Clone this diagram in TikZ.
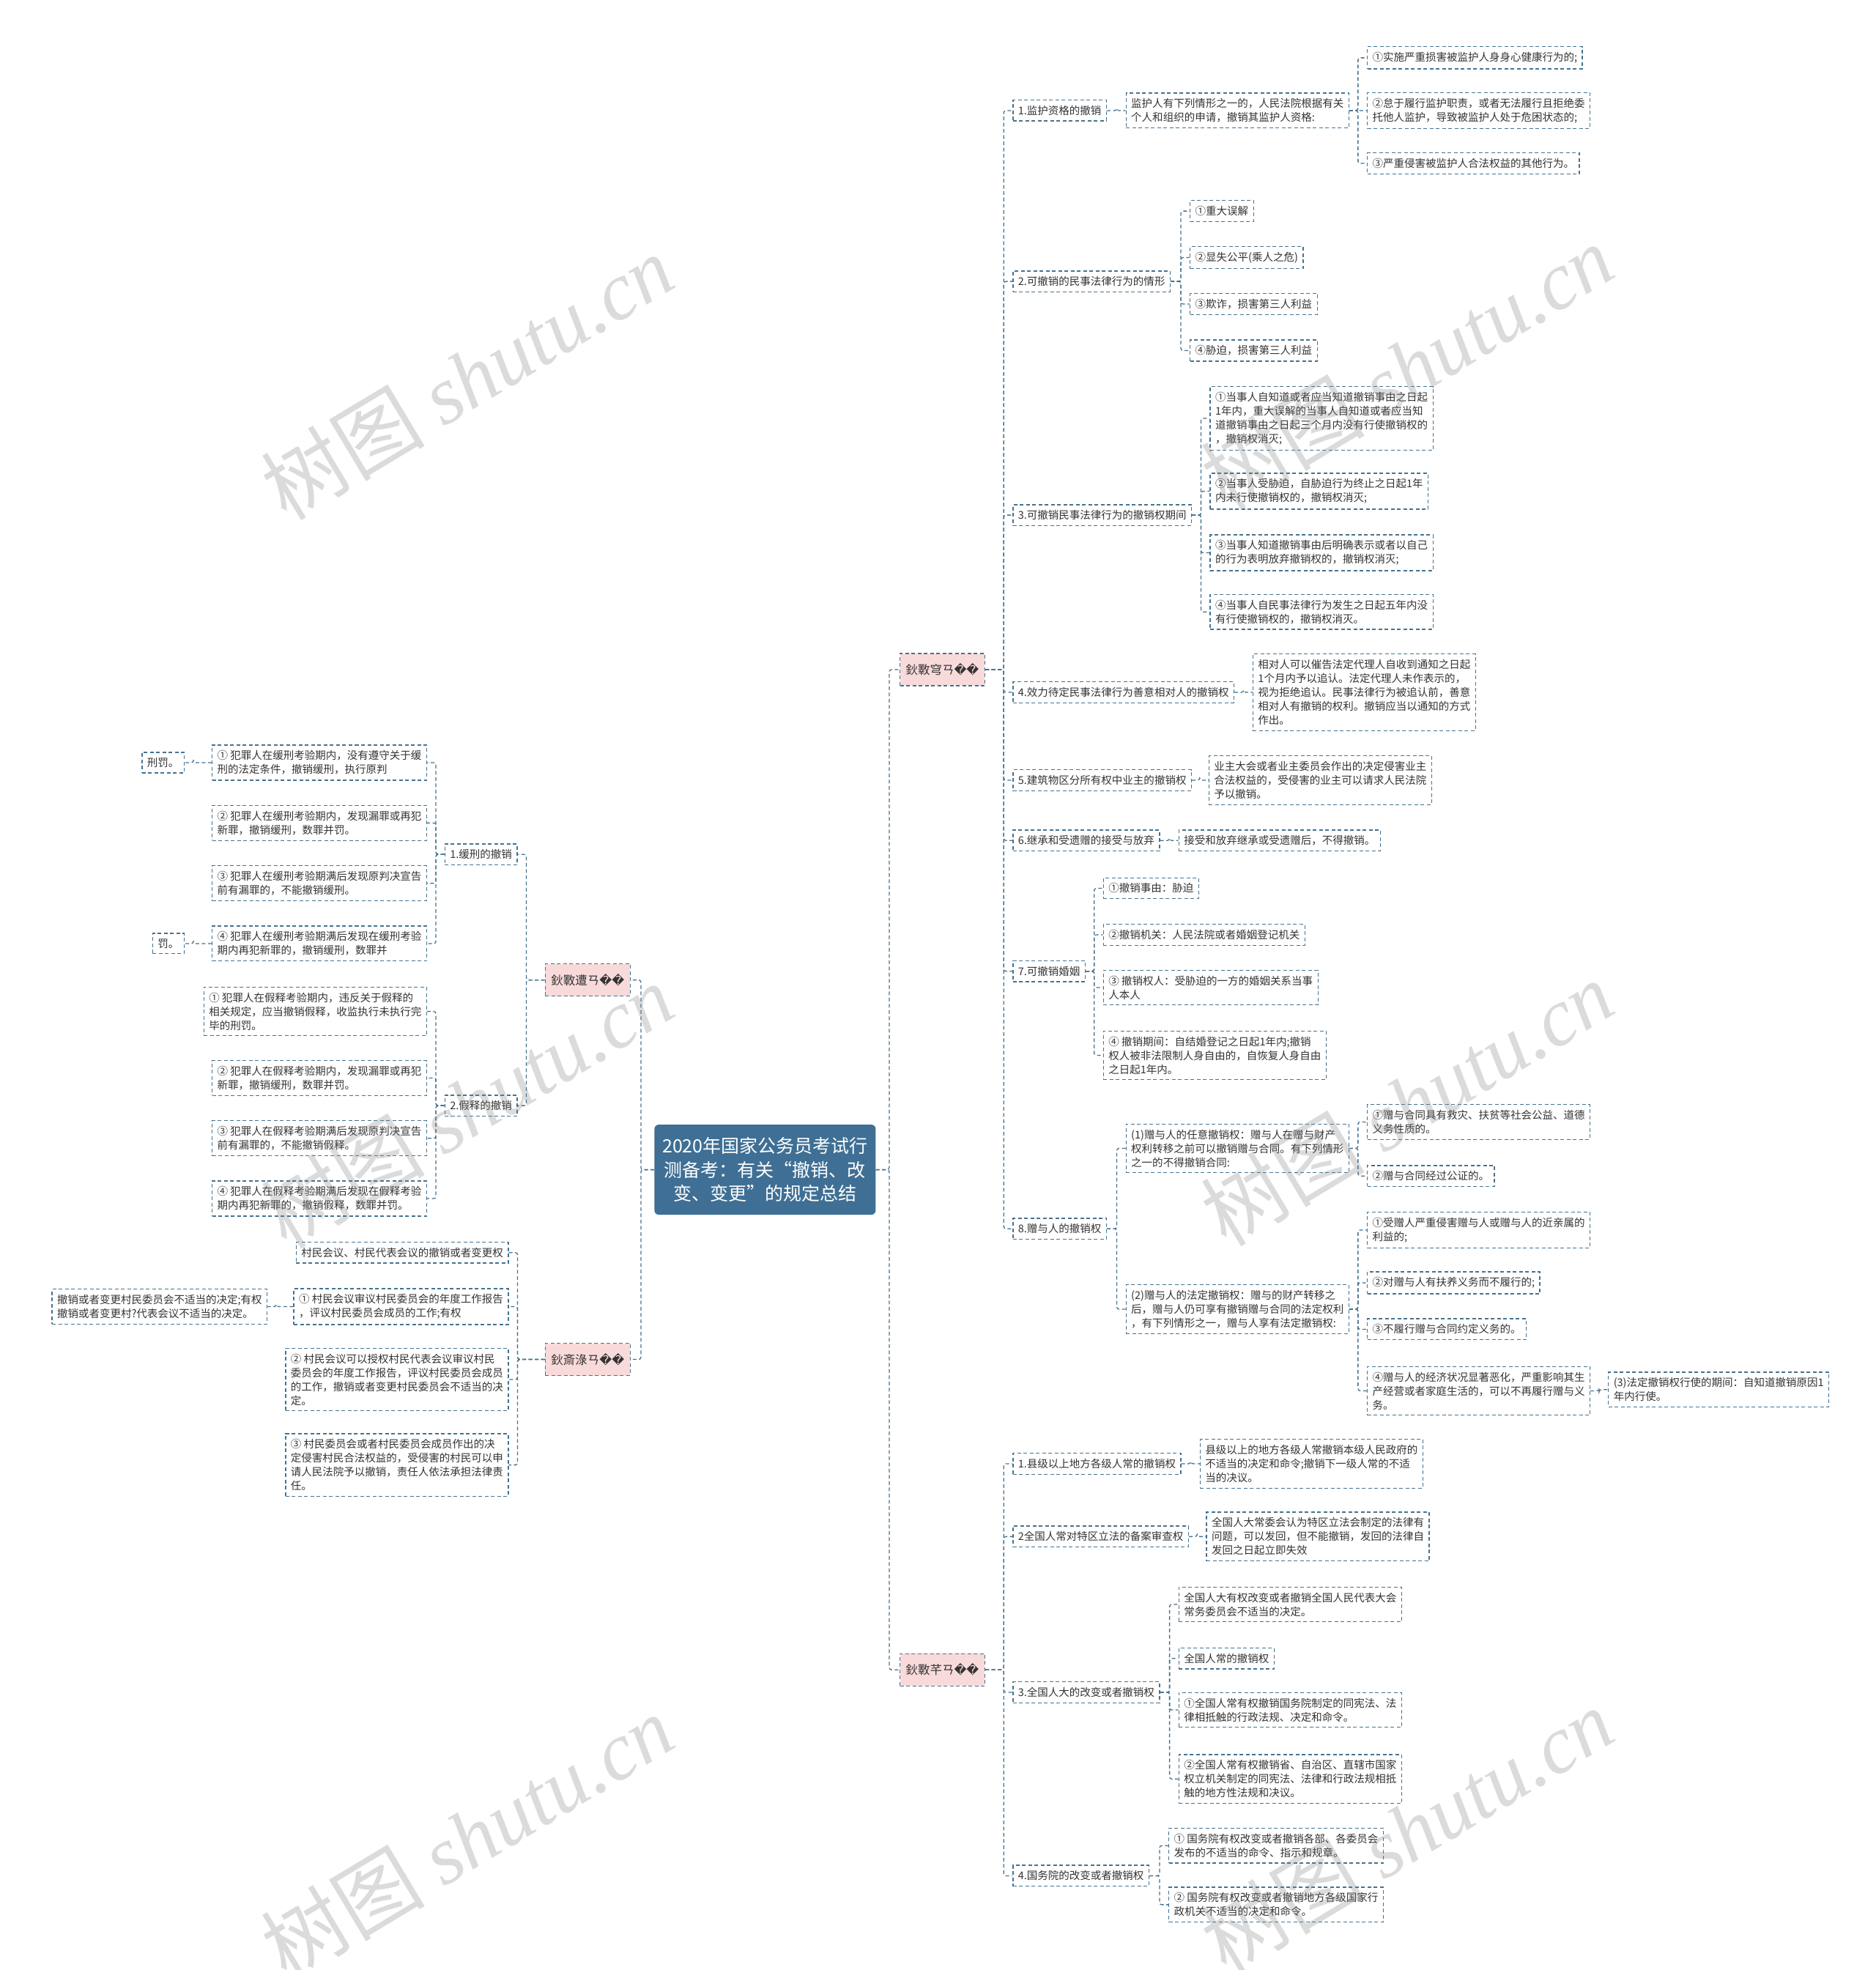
\documentclass[tikz,border=0pt]{standalone}
\usepackage{fontspec}
\setmainfont{Noto Sans CJK SC}
\newfontfamily\dejavu{DejaVu Sans}
\newfontfamily\wmlat{Liberation Serif}
\usetikzlibrary{calc}
\definecolor{lc}{HTML}{46728F}
\definecolor{tc}{HTML}{333333}
\definecolor{cfill}{HTML}{3F6F94}
\definecolor{pfill}{HTML}{F9DADA}
\newcommand\rep{{\dejavu\char"FFFD}}
\tikzset{
 box/.style={draw=lc, dash pattern=on 5pt off 3.5pt, line width=1.3pt, font=\fontsize{14.5}{19}\selectfont, text=tc, align=left, inner xsep=7pt, inner ysep=7.5pt},
 lb/.style={box, anchor=west},
 rb/.style={box, anchor=east},
 br/.style={box, fill=pfill, font=\fontsize{16.5}{20}\selectfont, minimum height=44pt, inner xsep=8pt},
 conn/.style={draw=lc, dash pattern=on 5pt off 3.5pt, line width=1.3pt, rounded corners=3pt},
 wm/.style={text=gray, opacity=0.28, font=\fontsize{112}{112}\selectfont, rotate=31},
}
\newcommand\linkR[3][12pt]{\draw[conn] (#2.east) -| ([xshift=-#1]#3.west) -- (#3.west);}
\newcommand\linkL[3][12pt]{\draw[conn] (#2.west) -| ([xshift=#1]#3.east) -- (#3.east);}
\begin{document}
\begin{tikzpicture}[x=1.7147pt,y=-1.7147pt]
\useasboundingbox (0,0) rectangle (1493,1568);
\fill[white] (0,0) rectangle (1493,1568);

% center
\node[fill=cfill, rounded corners=6pt, text=white, align=center, font=\fontsize{25}{32.5}\selectfont, minimum width=302pt, minimum height=123pt, inner sep=4pt] (ctr) at (609,931) {2020年国家公务员考试行\\测备考：有关“撤销、改\\变、变更”的规定总结};

% branches
\node[br, anchor=west] (b1) at (716,533) {鈥斁穹ㄢ\rep\rep};
\node[br, anchor=west] (b4) at (716,1329) {鈥斁芊ㄢ\rep\rep};
\node[br, anchor=east] (b2) at (502,780) {鈥斁遭ㄢ\rep\rep};
\node[br, anchor=east] (b3) at (502,1082) {鈥斎淥ㄢ\rep\rep};

% ---------- B1 ----------
\node[lb] (a1) at (806,88) {1.监护资格的撤销};
\node[lb] (a2) at (806,224) {2.可撤销的民事法律行为的情形};
\node[lb] (a3) at (806,410) {3.可撤销民事法律行为的撤销权期间};
\node[lb] (a4) at (806,551) {4.效力待定民事法律行为善意相对人的撤销权};
\node[lb] (a5) at (806,621) {5.建筑物区分所有权中业主的撤销权};
\node[lb] (a6) at (806,669) {6.继承和受遗赠的接受与放弃};
\node[lb] (a7) at (806,773) {7.可撤销婚姻};
\node[lb] (a8) at (806,978) {8.赠与人的撤销权};

\node[lb] (a1c) at (896,88) {监护人有下列情形之一的，人民法院根据有关\\个人和组织的申请，撤销其监护人资格:};
\node[lb] (a1c1) at (1088,46) {①实施严重损害被监护人身身心健康行为的;};
\node[lb] (a1c2) at (1088,88) {②怠于履行监护职责，或者无法履行且拒绝委\\托他人监护，导致被监护人处于危困状态的;};
\node[lb] (a1c3) at (1088,130) {③严重侵害被监护人合法权益的其他行为。};

\node[lb] (a2c1) at (947,168) {①重大误解};
\node[lb] (a2c2) at (947,205) {②显失公平(乘人之危)};
\node[lb] (a2c3) at (947,242) {③欺诈，损害第三人利益};
\node[lb] (a2c4) at (947,279) {④胁迫，损害第三人利益};

\node[lb] (a3c1) at (963,333) {①当事人自知道或者应当知道撤销事由之日起\\1年内，重大误解的当事人自知道或者应当知\\道撤销事由之日起三个月内没有行使撤销权的\\，撤销权消灭;};
\node[lb] (a3c2) at (963,391) {②当事人受胁迫，自胁迫行为终止之日起1年\\内未行使撤销权的，撤销权消灭;};
\node[lb] (a3c3) at (963,440) {③当事人知道撤销事由后明确表示或者以自己\\的行为表明放弃撤销权的，撤销权消灭;};
\node[lb] (a3c4) at (963,487) {④当事人自民事法律行为发生之日起五年内没\\有行使撤销权的，撤销权消灭。};

\node[lb] (a4c) at (997,551) {相对人可以催告法定代理人自收到通知之日起\\1个月内予以追认。法定代理人未作表示的，\\视为拒绝追认。民事法律行为被追认前，善意\\相对人有撤销的权利。撤销应当以通知的方式\\作出。};
\node[lb] (a5c) at (962,621) {业主大会或者业主委员会作出的决定侵害业主\\合法权益的，受侵害的业主可以请求人民法院\\予以撤销。};
\node[lb] (a6c) at (938,669) {接受和放弃继承或受遗赠后，不得撤销。};

\node[lb] (a7c1) at (878,707) {①撤销事由：胁迫};
\node[lb] (a7c2) at (878,744) {②撤销机关：人民法院或者婚姻登记机关};
\node[lb] (a7c3) at (878,786) {③ 撤销权人：受胁迫的一方的婚姻关系当事\\人本人};
\node[lb] (a7c4) at (878,840) {④ 撤销期间：自结婚登记之日起1年内;撤销\\权人被非法限制人身自由的，自恢复人身自由\\之日起1年内。};

\node[lb] (a8c1) at (896,914) {(1)赠与人的任意撤销权：赠与人在赠与财产\\权利转移之前可以撤销赠与合同。有下列情形\\之一的不得撤销合同:};
\node[lb] (a8c2) at (896,1042) {(2)赠与人的法定撤销权：赠与的财产转移之\\后，赠与人仍可享有撤销赠与合同的法定权利\\，有下列情形之一，赠与人享有法定撤销权:};
\node[lb] (a8c1a) at (1088,893) {①赠与合同具有救灾、扶贫等社会公益、道德\\义务性质的。};
\node[lb] (a8c1b) at (1088,936) {②赠与合同经过公证的。};
\node[lb] (a8c2a) at (1088,979) {①受赠人严重侵害赠与人或赠与人的近亲属的\\利益的;};
\node[lb] (a8c2b) at (1088,1021) {②对赠与人有扶养义务而不履行的;};
\node[lb] (a8c2c) at (1088,1058) {③不履行赠与合同约定义务的。};
\node[lb] (a8c2d) at (1088,1107) {④赠与人的经济状况显著恶化，严重影响其生\\产经营或者家庭生活的，可以不再履行赠与义\\务。};
\node[lb] (a8c2e) at (1280,1106) {(3)法定撤销权行使的期间：自知道撤销原因1\\年内行使。};

% ---------- B4 ----------
\node[lb] (c1) at (806,1165) {1.县级以上地方各级人常的撤销权};
\node[lb] (c2) at (806,1223) {2全国人常对特区立法的备案审查权};
\node[lb] (c3) at (806,1347) {3.全国人大的改变或者撤销权};
\node[lb] (c4) at (806,1493) {4.国务院的改变或者撤销权};
\node[lb] (c1c) at (955,1165) {县级以上的地方各级人常撤销本级人民政府的\\不适当的决定和命令;撤销下一级人常的不适\\当的决议。};
\node[lb] (c2c) at (960,1223) {全国人大常委会认为特区立法会制定的法律有\\问题，可以发回，但不能撤销，发回的法律自\\发回之日起立即失效};
\node[lb] (c3c1) at (938,1277) {全国人大有权改变或者撤销全国人民代表大会\\常务委员会不适当的决定。};
\node[lb] (c3c2) at (938,1320) {全国人常的撤销权};
\node[lb] (c3c3) at (938,1361) {①全国人常有权撤销国务院制定的同宪法、法\\律相抵触的行政法规、决定和命令。};
\node[lb] (c3c4) at (938,1416) {②全国人常有权撤销省、自治区、直辖市国家\\权立机关制定的同宪法、法律和行政法规相抵\\触的地方性法规和决议。};
\node[lb] (c4c1) at (930,1469) {① 国务院有权改变或者撤销各部、各委员会\\发布的不适当的命令、指示和规章。};
\node[lb] (c4c2) at (930,1516) {② 国务院有权改变或者撤销地方各级国家行\\政机关不适当的决定和命令。};

% ---------- B2 ----------
\node[rb] (d1) at (412,680) {1.缓刑的撤销};
\node[rb] (d2) at (412,880) {2.假释的撤销};
\node[rb] (d1c1) at (340,607) {① 犯罪人在缓刑考验期内，没有遵守关于缓\\刑的法定条件，撤销缓刑，执行原判};
\node[rb] (d1c2) at (340,655) {② 犯罪人在缓刑考验期内，发现漏罪或再犯\\新罪，撤销缓刑，数罪并罚。};
\node[rb] (d1c3) at (340,703) {③ 犯罪人在缓刑考验期满后发现原判决宣告\\前有漏罪的，不能撤销缓刑。};
\node[rb] (d1c4) at (340,751) {④ 犯罪人在缓刑考验期满后发现在缓刑考验\\期内再犯新罪的，撤销缓刑，数罪并};
\node[rb] (d1c1a) at (147,607) {刑罚。};
\node[rb] (d1c4a) at (147,751) {罚。};
\node[rb] (d2c1) at (340,805) {① 犯罪人在假释考验期内，违反关于假释的\\相关规定，应当撤销假释，收监执行未执行完\\毕的刑罚。};
\node[rb] (d2c2) at (340,858) {② 犯罪人在假释考验期内，发现漏罪或再犯\\新罪，撤销缓刑，数罪并罚。};
\node[rb] (d2c3) at (340,906) {③ 犯罪人在假释考验期满后发现原判决宣告\\前有漏罪的，不能撤销假释。};
\node[rb] (d2c4) at (340,954) {④ 犯罪人在假释考验期满后发现在假释考验\\期内再犯新罪的，撤销假释，数罪并罚。};

% ---------- B3 ----------
\node[rb] (e1) at (405,997) {村民会议、村民代表会议的撤销或者变更权};
\node[rb] (e2) at (405,1040) {① 村民会议审议村民委员会的年度工作报告\\，评议村民委员会成员的工作;有权};
\node[rb] (e3) at (405,1098) {② 村民会议可以授权村民代表会议审议村民\\委员会的年度工作报告，评议村民委员会成员\\的工作，撤销或者变更村民委员会不适当的决\\定。};
\node[rb] (e4) at (405,1166) {③ 村民委员会或者村民委员会成员作出的决\\定侵害村民合法权益的，受侵害的村民可以申\\请人民法院予以撤销，责任人依法承担法律责\\任。};
\node[rb] (e2a) at (213,1040) {撤销或者变更村民委员会不适当的决定;有权\\撤销或者变更村?代表会议不适当的决定。};

% ---------- connectors ----------
\linkR[14pt]{ctr}{b1}
\linkR[14pt]{ctr}{b4}
\linkL[14pt]{ctr}{b2}
\linkL[14pt]{ctr}{b3}
\foreach \c in {a1,a2,a3,a4,a5,a6,a7,a8} {\linkR{b1}{\c}}
\linkR{a1}{a1c}
\foreach \c in {a1c1,a1c2,a1c3} {\linkR{a1c}{\c}}
\foreach \c in {a2c1,a2c2,a2c3,a2c4} {\linkR{a2}{\c}}
\foreach \c in {a3c1,a3c2,a3c3,a3c4} {\linkR{a3}{\c}}
\linkR{a4}{a4c}
\linkR{a5}{a5c}
\linkR{a6}{a6c}
\foreach \c in {a7c1,a7c2,a7c3,a7c4} {\linkR{a7}{\c}}
\foreach \c in {a8c1,a8c2} {\linkR{a8}{\c}}
\foreach \c in {a8c1a,a8c1b} {\linkR{a8c1}{\c}}
\foreach \c in {a8c2a,a8c2b,a8c2c,a8c2d} {\linkR{a8c2}{\c}}
\linkR{a8c2d}{a8c2e}
\foreach \c in {c1,c2,c3,c4} {\linkR{b4}{\c}}
\linkR{c1}{c1c}
\linkR{c2}{c2c}
\foreach \c in {c3c1,c3c2,c3c3,c3c4} {\linkR{c3}{\c}}
\foreach \c in {c4c1,c4c2} {\linkR{c4}{\c}}
\foreach \c in {d1,d2} {\linkL{b2}{\c}}
\foreach \c in {d1c1,d1c2,d1c3,d1c4} {\linkL{d1}{\c}}
\foreach \c in {d2c1,d2c2,d2c3,d2c4} {\linkL{d2}{\c}}
\linkL{d1c1}{d1c1a}
\linkL{d1c4}{d1c4a}
\foreach \c in {e1,e2,e3,e4} {\linkL{b3}{\c}}
\linkL{e2}{e2a}

% ---------- watermarks ----------
\foreach \p in {(372,300),(1120,292),(372,880),(1120,878),(372,1462),(1120,1457)}
  \node[wm] at \p {树图 {\wmlat\itshape shutu.cn}};
\end{tikzpicture}
\end{document}
